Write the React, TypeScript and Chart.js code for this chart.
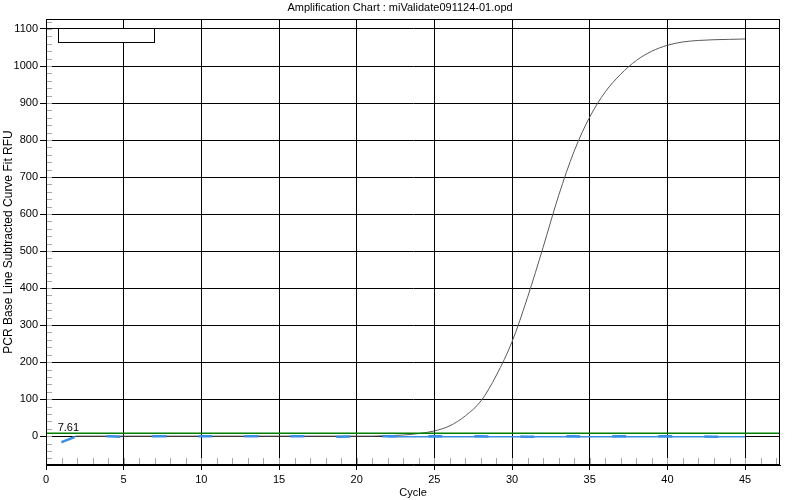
import React, { useEffect, useRef } from "react";
import { Chart, registerables } from "chart.js";

Chart.register(...registerables);

const TITLE = "Amplification Chart : miValidate091124-01.opd";
const X_TITLE = "Cycle";
const Y_TITLE = "PCR Base Line Subtracted Curve Fit RFU";

const cycles = [
  1, 2, 3, 4, 5, 6, 7, 8, 9, 10, 11, 12, 13, 14, 15, 16, 17, 18, 19, 20, 21, 22, 23,
  24, 25, 26, 27, 28, 29, 30, 31, 32, 33, 34, 35, 36, 37, 38, 39, 40, 41, 42, 43, 44, 45,
];

const sampleRFU = [
  -18, 0, 0, 0, 0, 0, 0, 0, 0, 0, 0, 0, 0, 0, 0, 0, 0, 0, 0, 0, 0, 1, 3, 7, 14, 28, 55,
  95, 165, 255, 375, 510, 650, 770, 862, 930, 978, 1015, 1040, 1056, 1065, 1069, 1071,
  1072, 1073,
];

const blueRFU = [
  -16, 0, 0, 0, -2, 0, 0, 0, 0, 0, 0, 0, 0, 0, 0, 0, 0, 0, -2, 0, 0, 0, 0, 0, 0, 0, 0,
  0, -2, 0, -2, -2, 0, 0, -2, 0, 0, 0, 0, 0, 0, 0, -2, 0, 0,
];

const blueThinCycles = [22, 45];
const blueThinRFU = [-1.5, -1.5];

const THRESHOLD = 7.61;
const thresholdCycles = [0, 47.25];
const thresholdLabel = "7.61";

const xTickValues = [0, 5, 10, 15, 20, 25, 30, 35, 40, 45];
const yTickValues = [0, 100, 200, 300, 400, 500, 600, 700, 800, 900, 1000, 1100];

const X_MIN = 0;
const X_MAX = 47.25;
const Y_MIN = -78;
const Y_MAX = 1127;
const X_MINOR_STEP = 1;
const Y_MINOR_STEP = 20;

const FONT = '"Liberation Sans", Arial, sans-serif';

const toPoints = (xs: number[], ys: number[]) => xs.map((x, i) => ({ x, y: ys[i] }));

const decorPlugin = {
  id: "decor",
  afterDatasetsDraw(chart: any) {
    const { ctx, chartArea: a, scales } = chart;
    const x = scales.x;
    const y = scales.y;
    ctx.save();
    // minor ticks
    ctx.strokeStyle = "#a8a8a8";
    ctx.lineWidth = 1;
    ctx.beginPath();
    for (let v = Math.ceil(X_MIN); v <= X_MAX; v += X_MINOR_STEP) {
      const px = Math.round(x.getPixelForValue(v)) + 0.5;
      ctx.moveTo(px, a.bottom - 7);
      ctx.lineTo(px, a.bottom - 1);
    }
    for (let v = Math.ceil(Y_MIN / Y_MINOR_STEP) * Y_MINOR_STEP; v <= Y_MAX; v += Y_MINOR_STEP) {
      const py = Math.round(y.getPixelForValue(v)) + 0.5;
      ctx.moveTo(a.left + 1, py);
      ctx.lineTo(a.left + 6, py);
    }
    ctx.stroke();

    // frame
    ctx.strokeStyle = "#000";
    ctx.lineWidth = 1;
    const l = Math.round(a.left) + 0.5;
    const t = Math.round(a.top) + 0.5;
    const r = Math.round(a.right) - 0.5;
    const b = Math.round(a.bottom) - 0.5;
    ctx.strokeRect(l, t, r - l, b - t);

    // empty legend box
    ctx.fillStyle = "#fff";
    ctx.fillRect(l + 12, t + 9, 96, 14);
    ctx.strokeRect(l + 12, t + 9, 96, 14);

    // threshold label
    ctx.fillStyle = "#000";
    ctx.font = `11px ${FONT}`;
    ctx.textAlign = "left";
    ctx.textBaseline = "alphabetic";
    ctx.fillText(thresholdLabel, x.getPixelForValue(0.75), y.getPixelForValue(THRESHOLD) - 2);

    // title
    ctx.textAlign = "center";
    ctx.textBaseline = "middle";
    ctx.fillText(TITLE, chart.width / 2, 8);
    ctx.restore();
  },
};

export default function App() {
  const canvasRef = useRef<HTMLCanvasElement | null>(null);

  useEffect(() => {
    if (!canvasRef.current) return;
    const chart = new Chart(canvasRef.current, {
      type: "line",
      data: {
        datasets: [
          {
            label: "blue",
            data: toPoints(cycles, blueRFU),
            borderColor: "#3a8ee6",
            borderWidth: 2.5,
            borderDash: [14, 32],
            pointRadius: 0,
            tension: 0,
            order: 0,
          },
          {
            label: "blueThin",
            data: toPoints(blueThinCycles, blueThinRFU),
            borderColor: "#3a8ee6",
            borderWidth: 1.5,
            pointRadius: 0,
            order: 1,
          },
          {
            label: "threshold",
            data: toPoints(thresholdCycles, [THRESHOLD, THRESHOLD]),
            borderColor: "#008000",
            borderWidth: 1.5,
            pointRadius: 0,
            order: 2,
          },
          {
            label: "sample",
            data: toPoints(cycles, sampleRFU),
            borderColor: "#5a5a5a",
            borderWidth: 1,
            pointRadius: 0,
            cubicInterpolationMode: "monotone",
            order: 3,
          },
        ],
      },
      options: {
        responsive: false,
        animation: false,
        devicePixelRatio: 1,
        layout: { padding: { top: 19, right: 20, left: 0, bottom: 0 } },
        plugins: {
          legend: { display: false },
          tooltip: { enabled: false },
          title: { display: false },
        },
        scales: {
          x: {
            type: "linear",
            min: X_MIN,
            max: X_MAX,
            afterBuildTicks: (scale: any) => {
              scale.ticks = xTickValues.map((v) => ({ value: v }));
            },
            afterFit: (scale: any) => {
              scale.height = 35;
            },
            grid: {
              color: "#000",
              lineWidth: 1,
              drawTicks: true,
              tickLength: 5,
              tickColor: "#000",
            },
            border: { display: true, color: "#000" },
            ticks: {
              autoSkip: false,
              maxRotation: 0,
              padding: 3,
              color: "#000",
              font: { family: FONT, size: 11 },
              callback: (v: any) => String(v),
            },
            title: {
              display: true,
              text: X_TITLE,
              color: "#000",
              font: { family: FONT, size: 11 },
              padding: 0,
            },
          },
          y: {
            type: "linear",
            min: Y_MIN,
            max: Y_MAX,
            afterBuildTicks: (scale: any) => {
              scale.ticks = yTickValues.map((v) => ({ value: v }));
            },
            afterFit: (scale: any) => {
              scale.width = 46;
            },
            grid: {
              color: "#000",
              lineWidth: 1,
              drawTicks: true,
              tickLength: 6,
              tickColor: "#000",
            },
            border: { display: true, color: "#000" },
            ticks: {
              autoSkip: false,
              padding: 2,
              color: "#000",
              font: { family: FONT, size: 11 },
              callback: (v: any) => String(v),
            },
            title: {
              display: true,
              text: Y_TITLE,
              color: "#000",
              font: { family: FONT, size: 12 },
              padding: { top: 1, bottom: 0 },
            },
          },
        },
      },
      plugins: [decorPlugin],
    } as any);
    return () => chart.destroy();
  }, []);

  return (
    <div style={{ position: "absolute", left: 0, top: 0, width: 800, height: 500, background: "#fff" }}>
      <canvas ref={canvasRef} width={800} height={500} />
    </div>
  );
}
